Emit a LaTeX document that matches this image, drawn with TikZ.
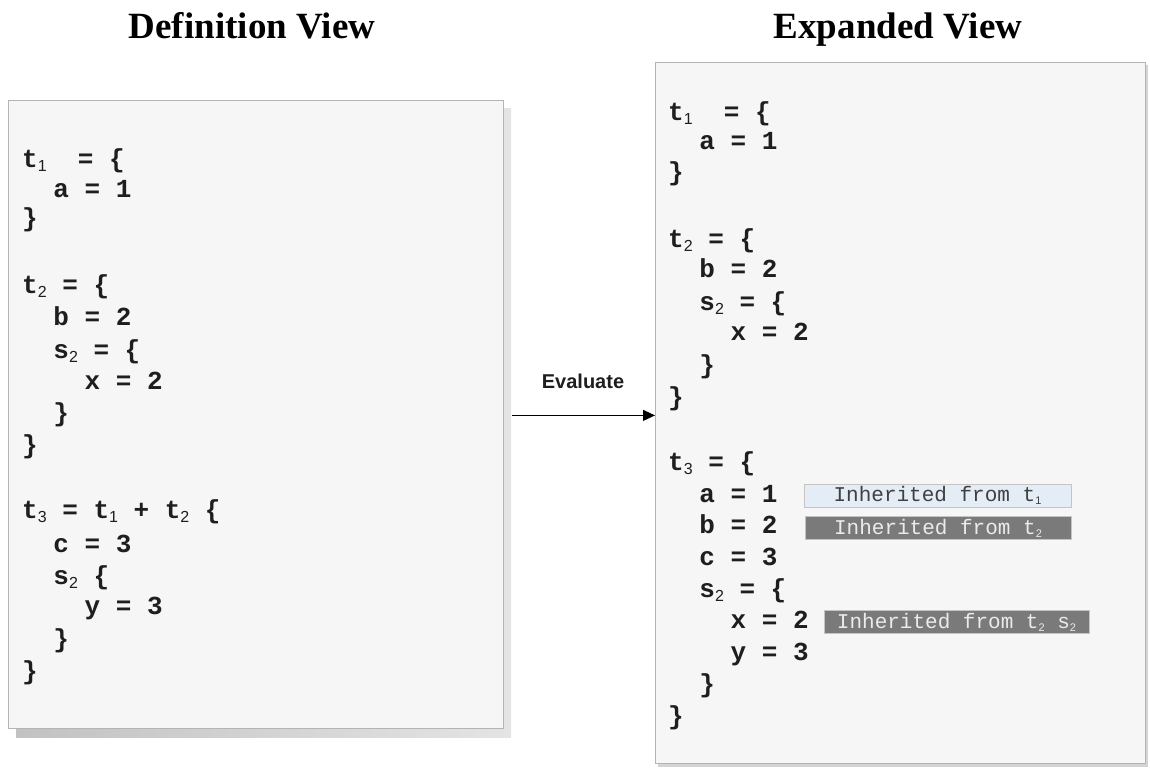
\documentclass[tikz,border=0pt]{standalone}
\usepackage{fontspec}
\usetikzlibrary{arrows.meta}
\newfontfamily\codefont{Liberation Mono}
\newfontfamily\subfont{Liberation Sans}
\newfontfamily\titlefont{Liberation Serif}
\newfontfamily\labelfont{Liberation Sans}

\definecolor{codeink}{HTML}{1E1E1E}
\definecolor{panelfill}{HTML}{F6F6F6}
\definecolor{paneledge}{HTML}{B4B4B4}
\definecolor{shadowdark}{HTML}{C2C2C2}
\definecolor{shadowlight}{HTML}{E4E4E4}
\definecolor{tagpale}{HTML}{E4ECF6}
\definecolor{tagdark}{HTML}{7A7A7A}
\definecolor{tagedge}{HTML}{C4C4C4}

% subscripts inside code lines and inside the tags
\newcommand\sbs[1]{\raisebox{-4pt}{\subfont\mdseries\fontsize{16}{16}\selectfont #1}}
\newcommand\tsbs[1]{\raisebox{-3pt}{\subfont\fontsize{11}{11}\selectfont #1}}

\tikzset{
  panel/.style={draw=paneledge, fill=panelfill, line width=0.8pt, inner sep=0pt, anchor=north west},
  code/.style={anchor=base west, inner sep=0pt, text=codeink,
    font=\codefont\bfseries\fontsize{26}{30}\selectfont},
  title/.style={anchor=base, inner sep=0pt, text=black,
    font=\titlefont\bfseries\fontsize{37}{40}\selectfont},
  tag/.style={draw=tagedge, line width=0.8pt, inner sep=0pt, minimum height=23pt,
    font=\codefont\fontsize{21}{23}\selectfont},
  palettag/.style={tag, fill=tagpale, text=black!75},
  darktag/.style={tag, fill=tagdark, text=white!92!black},
  evalarrow/.style={draw=black, line width=1.1pt, -{Triangle[length=12pt,width=11pt]}},
}

\begin{document}
\begin{tikzpicture}[x=1pt, y=-1pt]
\useasboundingbox (0,0) rectangle (1150,769);

% headings
\node[title] (deftitle) at (252,38) {Definition View};
\node[title] (exptitle) at (898,38) {Expanded View};

% drop shadows behind the two panels
\shade[left color=shadowdark, right color=shadowlight] (16,108) rectangle (511,737);
\fill[shadowdark!70!white] (658,65) rectangle (1148,767);

% panels
\node[panel, minimum width=495pt, minimum height=628pt] (defbox) at (8,100) {};
\node[panel, minimum width=490pt, minimum height=701pt] (expbox) at (655,62) {};

% definition view source
\node[code] (d1)  at (22,167) {t\sbs{1}~~=~\{};
\node[code] (d2)  at (22,197) {~~a~=~1};
\node[code] (d3)  at (22,226) {\}};
\node[code] (d4)  at (22,293) {t\sbs{2}~=~\{};
\node[code] (d5)  at (22,325) {~~b~=~2};
\node[code] (d6)  at (22,358) {~~s\sbs{2}~=~\{};
\node[code] (d7)  at (22,389) {~~~~x~=~2};
\node[code] (d8)  at (22,421) {~~\}};
\node[code] (d9)  at (22,453) {\}};
\node[code] (d10) at (22,518) {t\sbs{3}~=~t\sbs{1}~+~t\sbs{2}~\{};
\node[code] (d11) at (22,552) {~~c~=~3};
\node[code] (d12) at (22,584) {~~s\sbs{2}~\{};
\node[code] (d13) at (22,614) {~~~~y~=~3};
\node[code] (d14) at (22,647) {~~\}};
\node[code] (d15) at (22,679) {\}};

% expanded view source
\node[code] (e1)  at (668,120) {t\sbs{1}~~=~\{};
\node[code] (e2)  at (668,149) {~~a~=~1};
\node[code] (e3)  at (668,180) {\}};
\node[code] (e4)  at (668,247) {t\sbs{2}~=~\{};
\node[code] (e5)  at (668,277) {~~b~=~2};
\node[code] (e6)  at (668,310) {~~s\sbs{2}~=~\{};
\node[code] (e7)  at (668,340) {~~~~x~=~2};
\node[code] (e8)  at (668,373) {~~\}};
\node[code] (e9)  at (668,405) {\}};
\node[code] (e10) at (668,470) {t\sbs{3}~=~\{};
\node[code] (e11) at (668,502) {~~a~=~1};
\node[code] (e12) at (668,533) {~~b~=~2};
\node[code] (e13) at (668,565) {~~c~=~3};
\node[code] (e14) at (668,597) {~~s\sbs{2}~=~\{};
\node[code] (e15) at (668,628) {~~~~x~=~2};
\node[code] (e16) at (668,660) {~~~~y~=~3};
\node[code] (e17) at (668,692) {~~\}};
\node[code] (e18) at (668,724) {\}};

% inheritance tags
\node[palettag, minimum width=267pt] (tag1) at (937.5,495.5) {Inherited from t\tsbs{1}};
\node[darktag,  minimum width=266pt] (tag2) at (938,528)   {Inherited from t\tsbs{2}};
\node[darktag,  minimum width=265pt] (tag3) at (956.5,622) {Inherited from t\tsbs{2} s\tsbs{2}};

% evaluation step
\draw[evalarrow] ([xshift=8pt,yshift=-1pt]defbox.east) -- ([yshift=-1pt]defbox.east -| expbox.west);
\node[anchor=base, inner sep=0pt, font=\labelfont\bfseries\fontsize{20}{22}\selectfont,
      text=codeink] (evallbl) at (583,388) {Evaluate};
\end{tikzpicture}
\end{document}
